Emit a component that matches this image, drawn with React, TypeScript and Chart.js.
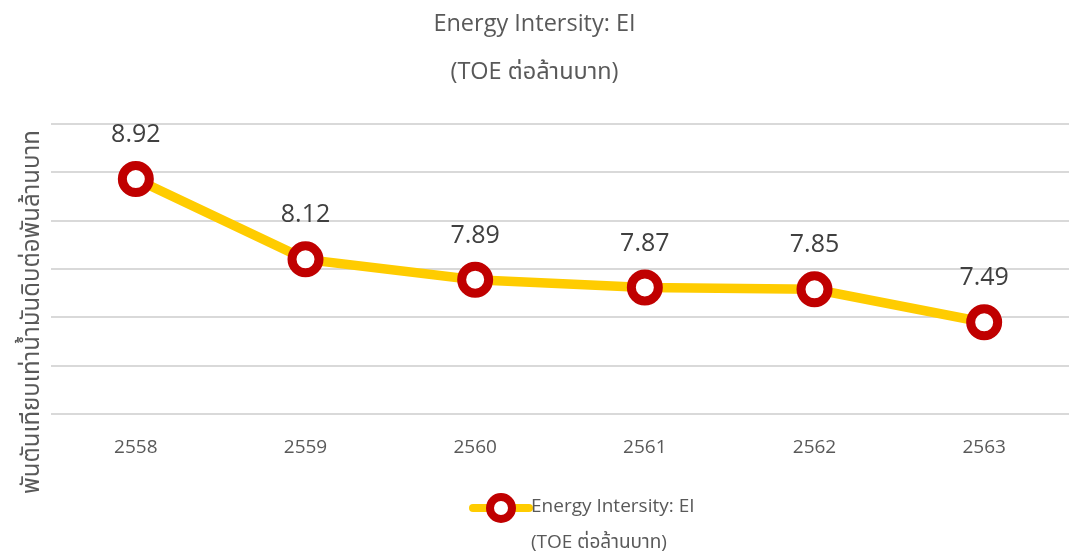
import React, { useEffect, useRef } from "react";
import { Chart, registerables } from "chart.js";

Chart.register(...registerables);

const years = ["2558", "2559", "2560", "2561", "2562", "2563"];
const eiValues = [8.93, 8.1, 7.89, 7.81, 7.79, 7.45];
const eiLabels = ["8.92", "8.12", "7.89", "7.87", "7.85", "7.49"];
const titleLines = ["Energy Intersity: EI", "(TOE ต่อล้านบาท)"];
const seriesLabel = ["Energy Intersity: EI", "(TOE ต่อล้านบาท)"];
const yAxisTitle = "พันตันเทียบเท่าน้ำมันดิบต่อพันล้านบาท";

const FONT = "'Open Sans', 'Noto Sans Thai', 'Noto Sans', 'DejaVu Sans', sans-serif";
const GOLD = "#FFCC00";
const RED = "#C00000";
const TEXT = "#595959";
const W = 1069;
const H = 552;

const dataLabelPlugin = {
  id: "dataLabels",
  afterDatasetsDraw(chart: any) {
    const ctx = chart.ctx;
    const meta = chart.getDatasetMeta(0);
    ctx.save();
    ctx.font = `25px ${FONT}`;
    ctx.fillStyle = "#404040";
    ctx.textAlign = "center";
    ctx.textBaseline = "middle";
    meta.data.forEach((pt: any, i: number) => {
      ctx.fillText(eiLabels[i], pt.x, pt.y - 44);
    });
    ctx.restore();
  },
};

const yTitlePlugin = {
  id: "yTitle",
  afterDraw(chart: any) {
    const ctx = chart.ctx;
    const area = chart.chartArea;
    ctx.save();
    ctx.translate(32, (area.top + area.bottom) / 2 + 43);
    ctx.rotate(-Math.PI / 2);
    ctx.font = `24px ${FONT}`;
    ctx.fillStyle = TEXT;
    ctx.textAlign = "center";
    ctx.textBaseline = "middle";
    ctx.fillText(yAxisTitle, 0, 0);
    ctx.restore();
  },
};

const legendPlugin = {
  id: "customLegend",
  afterDraw(chart: any) {
    const ctx = chart.ctx;
    const ds = chart.data.datasets[0];
    const lines: string[] = ds.label ? ds.label.split("\n") : [];
    const x0 = 473;
    const y0 = 508;
    ctx.save();
    ctx.strokeStyle = GOLD;
    ctx.lineWidth = 8;
    ctx.lineCap = "round";
    ctx.beginPath();
    ctx.moveTo(x0, y0);
    ctx.lineTo(x0 + 56, y0);
    ctx.stroke();
    ctx.beginPath();
    ctx.arc(x0 + 28, y0, 11, 0, Math.PI * 2);
    ctx.fillStyle = "#ffffff";
    ctx.fill();
    ctx.lineWidth = 8;
    ctx.strokeStyle = RED;
    ctx.stroke();
    ctx.font = `19px ${FONT}`;
    ctx.fillStyle = TEXT;
    ctx.textAlign = "left";
    ctx.textBaseline = "middle";
    lines.forEach((t, i) => ctx.fillText(t, x0 + 58, y0 - 1 + i * 36));
    ctx.restore();
  },
};

export default function App() {
  const ref = useRef<HTMLCanvasElement | null>(null);
  useEffect(() => {
    if (!ref.current) return;
    const chart = new Chart(ref.current, {
      type: "line",
      data: {
        labels: years,
        datasets: [
          {
            label: seriesLabel.join("\n"),
            data: eiValues,
            borderColor: GOLD,
            borderWidth: 9.5,
            tension: 0,
            pointRadius: 13.5,
            pointHoverRadius: 13.5,
            pointBorderWidth: 9,
            pointBorderColor: RED,
            pointBackgroundColor: "#ffffff",
            clip: false as any,
          },
        ],
      },
      options: {
        animation: false,
        responsive: false,
        devicePixelRatio: 1,
        layout: { autoPadding: false, padding: { left: 0, right: 0, top: 0, bottom: 71 } },
        plugins: {
          legend: { display: false },
          tooltip: { enabled: false },
          title: {
            display: true,
            text: titleLines,
            color: TEXT,
            font: { family: FONT, size: 23.5, weight: "normal", lineHeight: 2.04 },
            padding: { top: 0, bottom: 28 },
          },
        },
        scales: {
          x: {
            type: "category",
            offset: true,
            grid: { display: false, drawTicks: false },
            border: { display: false },
            ticks: { color: TEXT, font: { family: FONT, size: 19 }, padding: 22 },
          },
          y: {
            min: 6.5,
            max: 9.5,
            grid: { color: "#d9d9d9", lineWidth: 2, drawTicks: false },
            border: { display: false },
            ticks: { display: false, stepSize: 0.5 },
            afterFit: (s: any) => {
              s.width = 51;
            },
          },
        },
      },
      plugins: [dataLabelPlugin, yTitlePlugin, legendPlugin],
    });
    return () => chart.destroy();
  }, []);
  return (
    <div style={{ position: "absolute", left: 0, top: 0, width: W, height: H, background: "#fff" }}>
      <canvas ref={ref} width={W} height={H} style={{ display: "block", width: W, height: H }} />
    </div>
  );
}
